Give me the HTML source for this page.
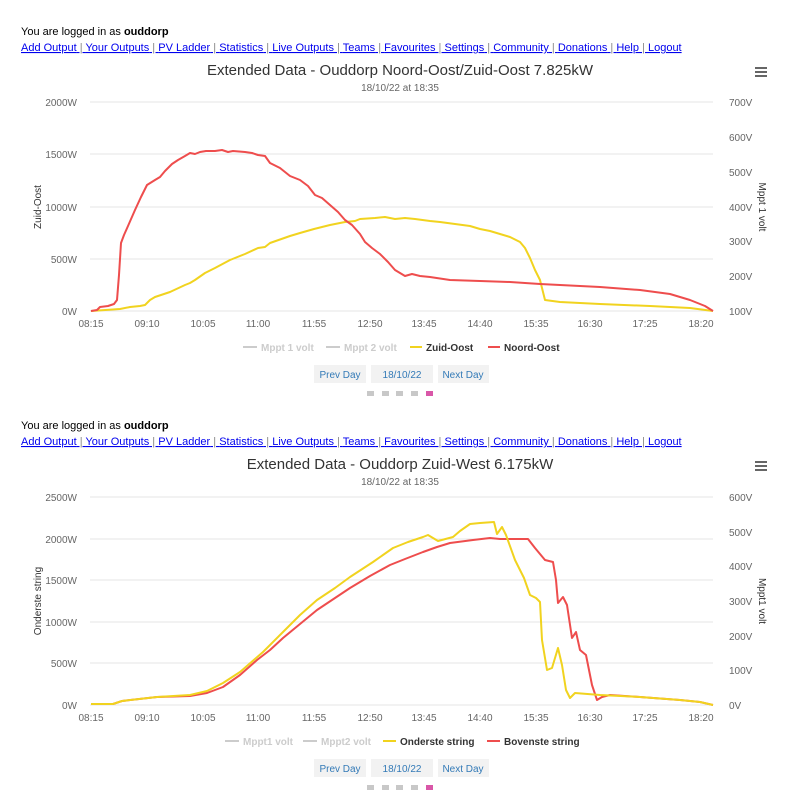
<!DOCTYPE html><html><head><meta charset="utf-8"><style>
body{margin:0;background:#fff;width:800px;height:800px;overflow:hidden;font-family:"Liberation Sans",sans-serif}
</style></head><body>
<svg width="800" height="800" xmlns="http://www.w3.org/2000/svg" font-family="Liberation Sans, sans-serif">
<g id="hdr1">
<text x="21" y="35" font-size="11" fill="#000">You are logged in as <tspan font-weight="bold">ouddorp</tspan></text>
<text x="21" y="51" font-size="11" fill="#00e" text-decoration="underline"><tspan>Add Output</tspan><tspan fill="#888"> | </tspan><tspan>Your Outputs</tspan><tspan fill="#888"> | </tspan><tspan>PV Ladder</tspan><tspan fill="#888"> | </tspan><tspan>Statistics</tspan><tspan fill="#888"> | </tspan><tspan>Live Outputs</tspan><tspan fill="#888"> | </tspan><tspan>Teams</tspan><tspan fill="#888"> | </tspan><tspan>Favourites</tspan><tspan fill="#888"> | </tspan><tspan>Settings</tspan><tspan fill="#888"> | </tspan><tspan>Community</tspan><tspan fill="#888"> | </tspan><tspan>Donations</tspan><tspan fill="#888"> | </tspan><tspan>Help</tspan><tspan fill="#888"> | </tspan><tspan>Logout</tspan></text>
</g>
<text x="400" y="75" font-size="15" fill="#333" text-anchor="middle">Extended Data - Ouddorp Noord-Oost/Zuid-Oost 7.825kW</text>
<text x="400" y="91" font-size="10" fill="#666" text-anchor="middle">18/10/22 at 18:35</text>
<g fill="#666"><rect x="755" y="67" width="12" height="2"/><rect x="755" y="71" width="12" height="2"/><rect x="755" y="75" width="12" height="2"/></g>
<g stroke="#e6e6e6" stroke-width="1">
<line x1="90" y1="102" x2="713" y2="102"/><line x1="90" y1="154" x2="713" y2="154"/><line x1="90" y1="207" x2="713" y2="207"/><line x1="90" y1="259" x2="713" y2="259"/><line x1="90" y1="311" x2="713" y2="311"/>
</g>
<g font-size="10" fill="#666" text-anchor="end">
<text x="77" y="106">2000W</text><text x="77" y="158">1500W</text><text x="77" y="211">1000W</text><text x="77" y="263">500W</text><text x="77" y="315">0W</text>
</g>
<g font-size="10" fill="#666" text-anchor="start">
<text x="729" y="106">700V</text><text x="729" y="141">600V</text><text x="729" y="176">500V</text><text x="729" y="211">400V</text><text x="729" y="245">300V</text><text x="729" y="280">200V</text><text x="729" y="315">100V</text>
</g>
<text transform="translate(41,207) rotate(-90)" font-size="10" fill="#333" text-anchor="middle">Zuid-Oost</text>
<text transform="translate(759,207) rotate(90)" font-size="10" fill="#333" text-anchor="middle">Mppt 1 volt</text>
<g font-size="10" fill="#666" text-anchor="middle">
<text x="91" y="327">08:15</text><text x="147" y="327">09:10</text><text x="203" y="327">10:05</text><text x="258" y="327">11:00</text><text x="314" y="327">11:55</text><text x="370" y="327">12:50</text><text x="424" y="327">13:45</text><text x="480" y="327">14:40</text><text x="536" y="327">15:35</text><text x="590" y="327">16:30</text><text x="645" y="327">17:25</text><text x="701" y="327">18:20</text>
</g>
<polyline fill="none" stroke="#f1d31f" stroke-width="2" stroke-linejoin="round" points="91,311 120,309 130,307 140,306 145,305 150,300 155,297 170,292 185,285 190,283 195,280 205,273 215,268 230,260 245,254 258,248 265,247 270,243 290,236 300,233 314,229 330,225 345,222 355,221 360,219 375,218 385,217 395,219 405,218 415,219 430,221 440,222 455,224 470,226 480,229 490,231 500,234 510,237 520,242 525,248 530,258 535,270 540,280 545,300 560,302 600,304 650,306 690,308 713,311"/>
<polyline fill="none" stroke="#ee4d4d" stroke-width="2" stroke-linejoin="round" points="91,311 97,310 100,307 108,306 114,304 117,300 119,275 121,243 124,235 128,226 135,210 141,197 147,185 155,180 160,177 165,171 172,164 178,160 185,156 190,153 195,154 200,152 206,151 215,151 222,150 228,152 233,151 245,152 252,153 258,155 265,156 270,163 280,168 290,176 300,180 308,186 315,195 322,198 330,205 338,212 345,220 352,225 360,234 365,242 372,248 380,254 388,262 395,270 400,273 405,276 412,274 420,276 430,277 450,280 480,281 510,282 540,284 560,285 600,287 640,290 670,294 690,300 705,306 713,311"/>
<g font-size="10" font-weight="bold">
<line x1="243" y1="347" x2="257" y2="347" stroke="#ccc" stroke-width="2"/><text x="261" y="351" fill="#ccc">Mppt 1 volt</text>
<line x1="326" y1="347" x2="340" y2="347" stroke="#ccc" stroke-width="2"/><text x="344" y="351" fill="#ccc">Mppt 2 volt</text>
<line x1="410" y1="347" x2="422" y2="347" stroke="#f1d31f" stroke-width="2"/><text x="426" y="351" fill="#333">Zuid-Oost</text>
<line x1="488" y1="347" x2="500" y2="347" stroke="#ee4d4d" stroke-width="2"/><text x="504" y="351" fill="#333">Noord-Oost</text>
</g>
<g font-size="10" fill="#337ab7" text-anchor="middle">
<rect x="314" y="365" width="52" height="18" fill="#f2f2f2"/><text x="340" y="378">Prev Day</text>
<rect x="371" y="365" width="62" height="18" fill="#f2f2f2"/><text x="402" y="378">18/10/22</text>
<rect x="438" y="365" width="51" height="18" fill="#f2f2f2"/><text x="463" y="378">Next Day</text>
</g>
<g fill="#c8c8c8"><rect x="367" y="391" width="7" height="5"/><rect x="382" y="391" width="7" height="5"/><rect x="396" y="391" width="7" height="5"/><rect x="411" y="391" width="7" height="5"/><rect x="426" y="391" width="7" height="5" fill="#d957a8"/></g>

<use href="#hdr1" y="394"/>
<text x="400" y="469" font-size="15" fill="#333" text-anchor="middle">Extended Data - Ouddorp Zuid-West 6.175kW</text>
<text x="400" y="485" font-size="10" fill="#666" text-anchor="middle">18/10/22 at 18:35</text>
<g fill="#666"><rect x="755" y="461" width="12" height="2"/><rect x="755" y="465" width="12" height="2"/><rect x="755" y="469" width="12" height="2"/></g>
<g stroke="#e6e6e6" stroke-width="1">
<line x1="90" y1="497" x2="713" y2="497"/><line x1="90" y1="539" x2="713" y2="539"/><line x1="90" y1="580" x2="713" y2="580"/><line x1="90" y1="622" x2="713" y2="622"/><line x1="90" y1="663" x2="713" y2="663"/><line x1="90" y1="705" x2="713" y2="705"/>
</g>
<g font-size="10" fill="#666" text-anchor="end">
<text x="77" y="501">2500W</text><text x="77" y="543">2000W</text><text x="77" y="584">1500W</text><text x="77" y="626">1000W</text><text x="77" y="667">500W</text><text x="77" y="709">0W</text>
</g>
<g font-size="10" fill="#666" text-anchor="start">
<text x="729" y="501">600V</text><text x="729" y="536">500V</text><text x="729" y="570">400V</text><text x="729" y="605">300V</text><text x="729" y="640">200V</text><text x="729" y="674">100V</text><text x="729" y="709">0V</text>
</g>
<text transform="translate(41,601) rotate(-90)" font-size="10" fill="#333" text-anchor="middle">Onderste string</text>
<text transform="translate(759,601) rotate(90)" font-size="10" fill="#333" text-anchor="middle">Mppt1 volt</text>
<g font-size="10" fill="#666" text-anchor="middle">
<text x="91" y="721">08:15</text><text x="147" y="721">09:10</text><text x="203" y="721">10:05</text><text x="258" y="721">11:00</text><text x="314" y="721">11:55</text><text x="370" y="721">12:50</text><text x="424" y="721">13:45</text><text x="480" y="721">14:40</text><text x="536" y="721">15:35</text><text x="590" y="721">16:30</text><text x="645" y="721">17:25</text><text x="701" y="721">18:20</text>
</g>
<polyline fill="none" stroke="#ee4d4d" stroke-width="2" stroke-linejoin="round" points="91,704 113,704 122,701 157,697 190,696 207,693 223,687 240,675 257,660 270,650 283,638 300,624 317,610 335,598 350,588 370,576 390,565 405,559 423,552 437,547 450,543 473,540 490,538 500,539 528,539 535,548 545,560 553,562 556,580 558,603 563,597 567,605 572,638 576,632 580,650 586,655 592,685 597,700 602,697 610,695 640,697 680,700 700,702 713,705"/>
<polyline fill="none" stroke="#f1d31f" stroke-width="2" stroke-linejoin="round" points="91,704 113,704 122,701 157,697 190,695 207,691 223,683 240,672 263,652 283,632 300,615 317,600 335,588 350,577 373,562 393,548 408,542 423,537 428,535 438,541 453,537 460,531 470,524 480,523 494,522 497,534 502,527 506,535 515,560 524,578 530,595 536,598 540,602 542,640 547,670 552,668 558,648 562,665 566,690 570,698 575,693 600,695 640,697 680,700 700,702 713,705"/>
<g font-size="10" font-weight="bold">
<line x1="225" y1="741" x2="239" y2="741" stroke="#ccc" stroke-width="2"/><text x="243" y="745" fill="#ccc">Mppt1 volt</text>
<line x1="303" y1="741" x2="317" y2="741" stroke="#ccc" stroke-width="2"/><text x="321" y="745" fill="#ccc">Mppt2 volt</text>
<line x1="383" y1="741" x2="396" y2="741" stroke="#f1d31f" stroke-width="2"/><text x="400" y="745" fill="#333">Onderste string</text>
<line x1="487" y1="741" x2="500" y2="741" stroke="#ee4d4d" stroke-width="2"/><text x="504" y="745" fill="#333">Bovenste string</text>
</g>
<g font-size="10" fill="#337ab7" text-anchor="middle">
<rect x="314" y="759" width="52" height="18" fill="#f2f2f2"/><text x="340" y="772">Prev Day</text>
<rect x="371" y="759" width="62" height="18" fill="#f2f2f2"/><text x="402" y="772">18/10/22</text>
<rect x="438" y="759" width="51" height="18" fill="#f2f2f2"/><text x="463" y="772">Next Day</text>
</g>
<g fill="#c8c8c8"><rect x="367" y="785" width="7" height="5"/><rect x="382" y="785" width="7" height="5"/><rect x="396" y="785" width="7" height="5"/><rect x="411" y="785" width="7" height="5"/><rect x="426" y="785" width="7" height="5" fill="#d957a8"/></g>
</svg>
</body></html>
